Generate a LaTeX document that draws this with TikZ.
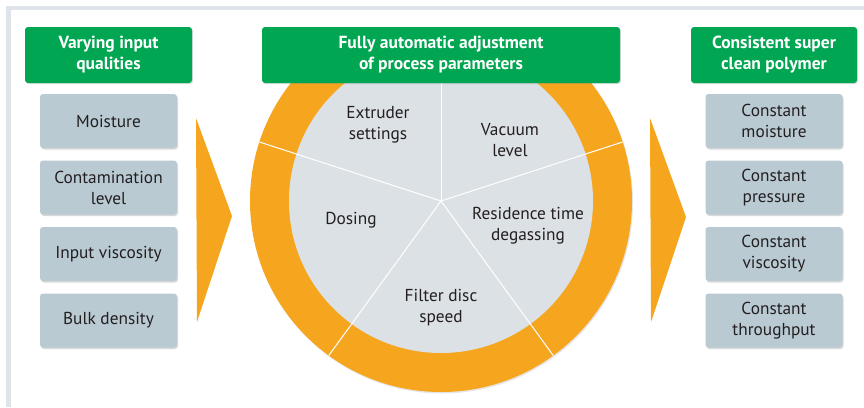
\documentclass[tikz,border=0pt]{standalone}
\usepackage{fontspec}
\setmainfont{PT Sans}
\usetikzlibrary{shadows}
\definecolor{hgreen}{HTML}{00A651}
\definecolor{boxgray}{HTML}{BACAD3}
\definecolor{ringor}{HTML}{F6A61E}
\definecolor{innergray}{HTML}{DCE1E6}
\definecolor{framegray}{HTML}{DEE4E9}
\definecolor{txt}{HTML}{231F20}
\tikzset{
  header/.style={fill=hgreen, rounded corners=3pt, minimum height=56pt, text=white,
    font=\fontsize{17.5}{21}\selectfont\bfseries, align=center, inner sep=0pt,
    drop shadow={opacity=0.25, shadow xshift=1pt, shadow yshift=-1.2pt}},
  item/.style={fill=boxgray, rounded corners=3pt, minimum width=137pt, minimum height=54pt,
    text=txt, font=\fontsize{17.3}{21}\selectfont, align=center, inner sep=0pt,
    drop shadow={opacity=0.3, shadow xshift=1pt, shadow yshift=-1.5pt}},
  seglabel/.style={text=txt, font=\fontsize{17.3}{21}\selectfont, align=center},
  divider/.style={white, line width=1pt},
  bigarrow/.style={fill=ringor},
}
\begin{document}
\begin{tikzpicture}[x=1pt,y=-1pt]
\useasboundingbox (0,0) rectangle (864,407);
% frame
\fill[framegray] (6,6) rectangle (864,10);
\fill[framegray] (6,10) rectangle (11,407);
% ring
\coordinate (c) at (441,201);
\begin{scope}
\clip (200,30) rectangle (700,407);
\fill[ringor, drop shadow={opacity=0.2, shadow xshift=1pt, shadow yshift=-1.5pt}] (c) circle[radius=191];
\fill[innergray] (c) circle[radius=152];
\foreach \a in {90,162,234,306,18}
  \draw[divider] (c) -- ++(\a:191pt) ;
\end{scope}
% headers
\node[header, minimum width=167pt] (hl) at (108.5,55) {Varying input\\qualities};
\node[header, minimum width=358pt] (hc) at (441,55) {Fully automatic adjustment\\of process parameters};
\node[header, minimum width=166pt] (hr) at (774,55) {Consistent super\\clean polymer};
% left items
\node[item] (l1) at (108.5,121) {Moisture};
\node[item] (l2) at (108.5,187.5) {Contamination\\level};
\node[item] (l3) at (108.5,254) {Input viscosity};
\node[item] (l4) at (108.5,320.5) {Bulk density};
% right items
\node[item] (r1) at (774,121) {Constant\\moisture};
\node[item] (r2) at (774,187.5) {Constant\\pressure};
\node[item] (r3) at (774,254) {Constant\\viscosity};
\node[item] (r4) at (774,320.5) {Constant\\throughput};
% arrows
\fill[bigarrow] (196,118) -- (232,216) -- (197,322) -- cycle;
\fill[bigarrow] (650,118) -- (686,217) -- (651,322) -- cycle;
% segment labels
\node[seglabel] (s1) at (378,125) {Extruder\\settings};
\node[seglabel] (s2) at (510,140) {Vacuum\\level};
\node[seglabel] (s3) at (351,220) {Dosing};
\node[seglabel] (s4) at (528,226) {Residence time\\degassing};
\node[seglabel] (s5) at (441,308) {Filter disc\\speed};
\end{tikzpicture}
\end{document}
